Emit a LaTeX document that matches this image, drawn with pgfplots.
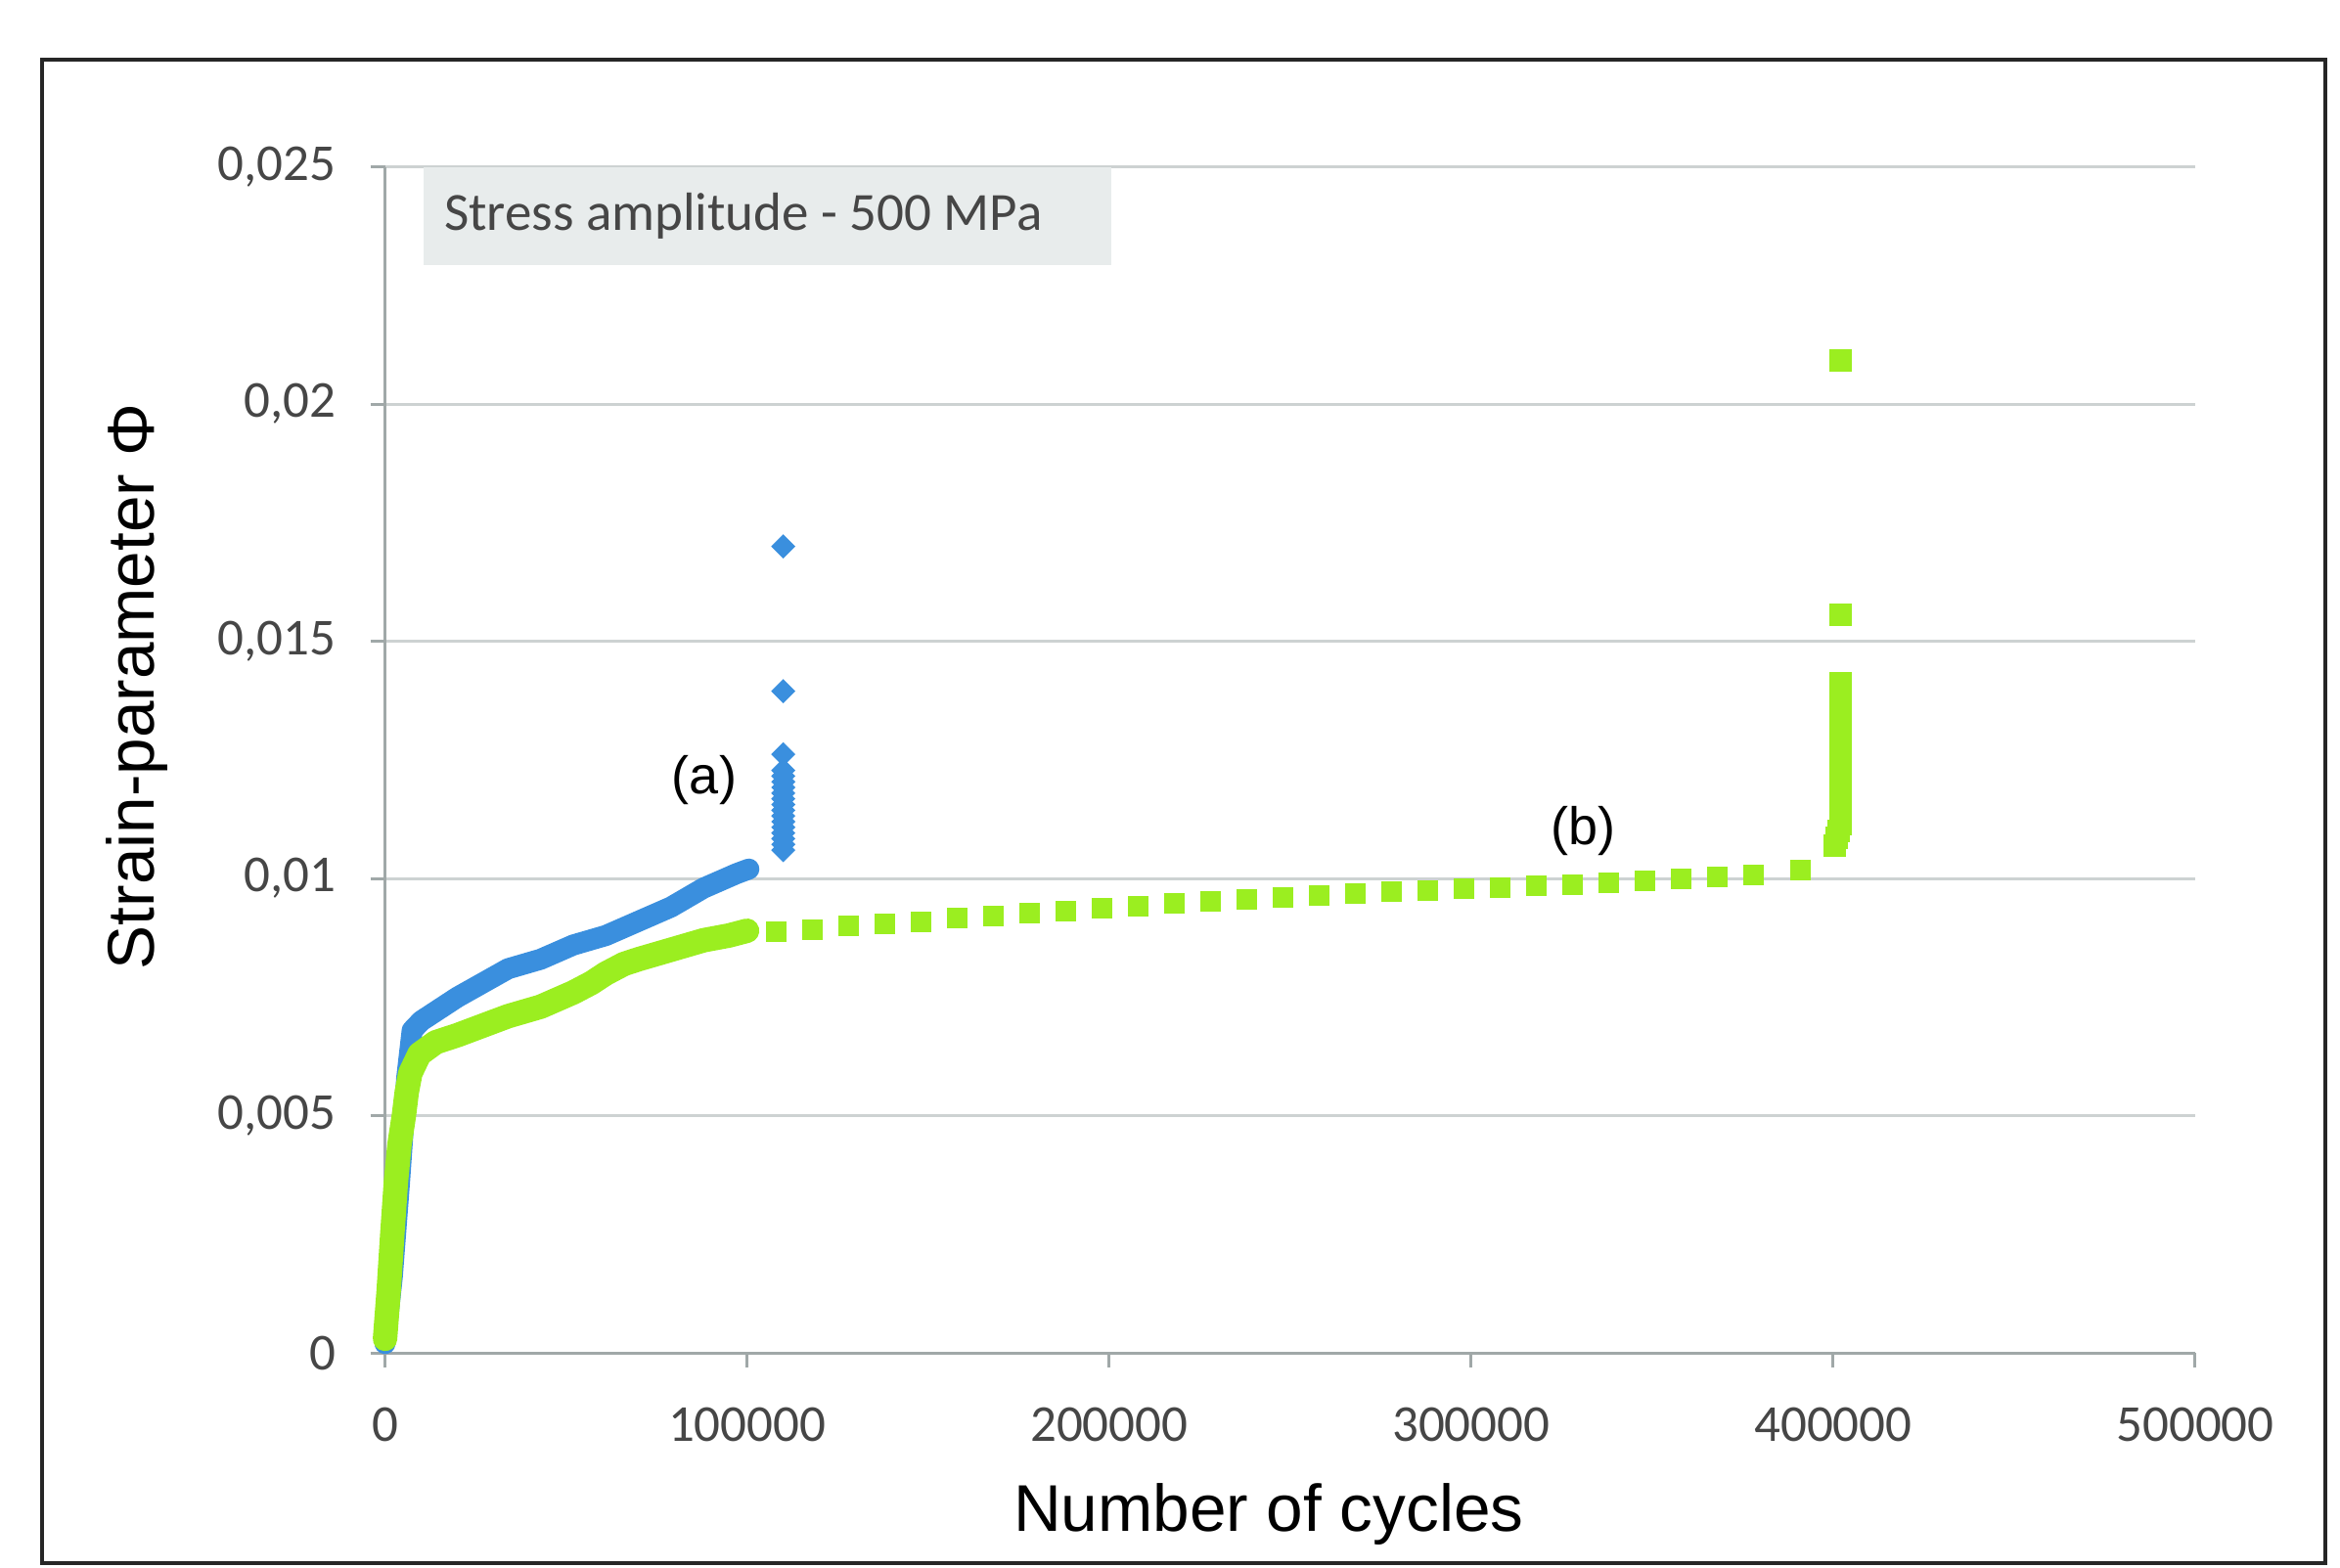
\documentclass[border=0pt]{standalone}
\usepackage{pgfplots}
\pgfplotsset{compat=1.18}
\usepackage{fontspec}
\setmainfont{Liberation Sans}
\newfontfamily\calib{Carlito}
\definecolor{serA}{RGB}{58,143,222}
\definecolor{serB}{RGB}{155,238,32}
\definecolor{gridc}{RGB}{205,210,210}
\definecolor{axc}{RGB}{160,168,168}
\definecolor{boxc}{RGB}{232,236,236}
\definecolor{tickc}{RGB}{70,70,70}
\begin{document}
\begin{tikzpicture}
\path (-78.7pt,-43.9pt) rectangle (399.6pt,276.6pt);
\begin{axis}[
  scale only axis, width=370pt, height=242.5pt,
  xmin=0, xmax=500000, ymin=0, ymax=0.025,
  axis lines*=left,
  axis line style={axc, line width=0.6pt},
  xtick={0,100000,200000,300000,400000,500000},
  xticklabels={0,100000,200000,300000,400000,500000},
  ytick={0,0.005,0.01,0.015,0.02,0.025},
  yticklabels={0,{0,005},{0,01},{0,015},{0,02},{0,025}},
  scaled ticks=false,
  ymajorgrids, grid style={gridc, line width=0.6pt},
  tick align=outside, major tick length=3pt,
  tick style={axc, line width=0.6pt},
  ticklabel style={font=\calib\fontsize{10.6}{12}\selectfont, text=tickc},
  xticklabel style={yshift=-4.6pt},
  yticklabel style={xshift=-3.5pt},
  clip=false,
]
% series (a) dense part
\addplot[serA, line width=4.3pt, line join=round, line cap=round] coordinates {
(0,0.0002) (2000,0.0016) (4000,0.0036) (6000,0.0058) (7500,0.0068)
(10000,0.0070) (14000,0.0072) (20000,0.0075) (27000,0.0078) (34000,0.0081)
(43000,0.0083) (52000,0.0086) (61000,0.0088) (70000,0.0091) (79000,0.0094)
(88000,0.0098) (97000,0.0101) (100500,0.0102)
};
% series (a) final points
\addplot[only marks, mark=square*, mark size=1.55pt, mark options={rotate=45, fill=serA, draw=serA}] coordinates {
(110000,0.0106) (110000,0.01072) (110000,0.01084) (110000,0.01096) (110000,0.01108)
(110000,0.0112) (110000,0.01132) (110000,0.01144) (110000,0.01156) (110000,0.01168)
(110000,0.0118) (110000,0.01192) (110000,0.01204) (110000,0.01216) (110000,0.01228)
(110000,0.01262) (110000,0.01395) (110000,0.0170)
};
% series (b) dense part
\addplot[serB, line width=5pt, line join=round, line cap=round] coordinates {
(0,0.0003) (1000,0.0013) (2000,0.0025) (3000,0.0036) (4000,0.0044)
(5200,0.0050) (6000,0.0055) (7000,0.0059) (9500,0.0063) (14000,0.00655)
(20000,0.0067) (27000,0.0069) (34000,0.0071) (43000,0.0073) (52000,0.0076)
(57000,0.0078) (61000,0.0080) (66000,0.0082) (70000,0.0083) (79000,0.0085)
(88000,0.0087) (95000,0.0088) (100000,0.0089)
};
% series (b) sparse squares
\addplot[only marks, mark=square*, mark size=1.9pt, mark options={fill=serB, draw=serB}] coordinates {
(108000,0.00888) (118000,0.00893) (128000,0.00900) (138000,0.00905) (148000,0.00908)
(158000,0.00916) (168000,0.00921) (178000,0.00927) (188000,0.00932) (198000,0.00938)
(208000,0.00942) (218000,0.00947) (228000,0.00952) (238000,0.00957) (248000,0.00961)
(258000,0.00965) (268000,0.00968) (278000,0.00972) (288000,0.00975) (298000,0.00978)
(308000,0.00981) (318000,0.00984) (328000,0.00988) (338000,0.00991) (348000,0.00996)
(358000,0.00999) (368000,0.01003) (378000,0.01008) (391000,0.01018)
};
% series (b) final points
\addplot[only marks, mark=square*, mark size=2.1pt, mark options={fill=serB, draw=serB}] coordinates {
(400500,0.0107) (401000,0.01085) (401500,0.0110) (402000,0.01115) (402000,0.0113)
(402000,0.01142) (402000,0.01154) (402000,0.01166) (402000,0.01178) (402000,0.0119)
(402000,0.01202) (402000,0.01214) (402000,0.01226) (402000,0.01238) (402000,0.0125)
(402000,0.01262) (402000,0.01274) (402000,0.01286) (402000,0.01298) (402000,0.0131)
(402000,0.01322) (402000,0.01334) (402000,0.01346) (402000,0.01358) (402000,0.0137)
(402000,0.01412) (402000,0.01555) (402000,0.02091)
};
\node[font=\fontsize{10.8}{12}\selectfont] at (axis cs:88200,0.01208) {(a)};
\node[font=\fontsize{10.8}{12}\selectfont] at (axis cs:331000,0.01101) {(b)};
\end{axis}
\fill[boxc] (7.9pt,222.4pt) rectangle (148.5pt,242.5pt);
\node[anchor=west, font=\calib\fontsize{11}{13}\selectfont, text=tickc, inner sep=0pt] at (11.9pt,232.4pt) {Stress amplitude - 500 MPa};
\node[rotate=90, font=\fontsize{13.5}{16}\selectfont] at (-50.6pt,136.3pt) {Strain-parameter Φ};
\node[font=\fontsize{13.5}{16}\selectfont] at (180.6pt,-32.9pt) {Number of cycles};
\draw[line width=0.8pt, black!85] (-70.2pt,-43pt) rectangle (396.5pt,264.4pt);
\end{tikzpicture}
\end{document}
